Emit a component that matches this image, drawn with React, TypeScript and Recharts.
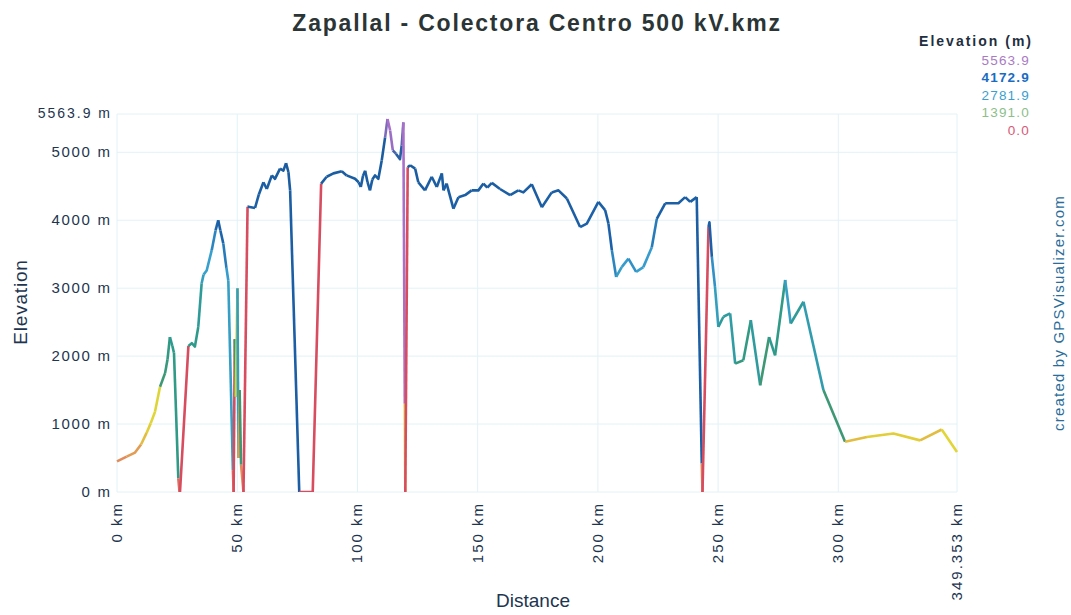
import { LineChart, Line, XAxis, YAxis, CartesianGrid } from 'recharts';

// profile (km, metres)
const distanceKm = [
  0, 4, 7.5, 10, 12.3, 14, 15.8, 17.9, 20, 21, 22, 23, 23.7, 25.5, 26.0, 26.2, 29.7,
  31.1, 32.4, 33.8, 35.2, 36, 37.3, 39.4, 41, 42.1, 43, 44.2, 45.5, 46.3, 48.2, 48.5,
  49.0, 49.4, 50.1, 50.5, 51.0, 51.6, 52.6, 54.3, 54.6, 57.4, 59, 60.9, 62.3, 64.4,
  65.7, 67.8, 69.2, 70.3, 71.3, 72, 75.8, 81.4, 84.9, 87.2, 90, 93.5, 95.5, 99,
  100.5, 101.4, 102.3, 103.2, 104.2, 105.2, 106.2, 107.3, 108.7, 110.1, 111.5, 112.5,
  113.6, 114.7, 116, 117.7, 118.4, 119.1, 119.7, 119.9, 120.9, 121.9, 124, 125.3,
  128.1, 130.9, 133, 135.1, 135.8, 137.1, 139.9, 142, 144.8, 147.5, 150.3, 152.4,
  154, 155.9, 159.3, 163.5, 166.9, 169, 172.5, 176.7, 180.8, 183.6, 187.1, 192.6,
  195.4, 200.2, 203, 204.4, 205.8, 207.6, 209.9, 212.7, 215.9, 218.9, 222.4, 224.5,
  228, 233.5, 236.3, 238.4, 241.1, 243.2, 243.5, 246, 246.4, 247.4, 248.7, 250.1,
  252.2, 255, 257.1, 260.5, 263.6, 267.5, 271.2, 273.7, 277.9, 280.2, 285.5, 293.8,
  302.8, 311.9, 322.9, 334, 343, 349.353,
];
const elevationM = [
  450, 520, 580, 700, 870, 1010, 1180, 1550, 1750, 1950, 2280, 2150, 2050, 200, 0, 0, 2150,
  2190, 2140, 2430, 3070, 3200, 3260, 3560, 3850, 4000, 3850, 3660, 3300, 3110, 320, 0,
  2250, 1400, 3000, 500, 1500, 400, 0, 4200, 4200, 4180, 4380, 4560, 4460, 4660,
  4610, 4760, 4730, 4840, 4710, 4440, 0, 0, 4540, 4640, 4690, 4720, 4660, 4610,
  4560, 4490, 4650, 4730, 4560, 4440, 4600, 4660, 4610, 4880, 5220, 5490,
  5320, 5030, 4980, 4900, 5100, 5440, 1300, 0, 4780, 4810, 4760, 4560,
  4440, 4640, 4490, 4690, 4440, 4540, 4170, 4340, 4370, 4440, 4440, 4540,
  4480, 4550, 4460, 4370, 4440, 4410, 4530, 4190, 4410, 4440, 4320, 3900,
  3950, 4270, 4150, 3950, 3560, 3165, 3310, 3435, 3240, 3310, 3600, 4020,
  4250, 4250, 4340, 4270, 4340, 420, 0, 3900, 3970, 3460, 3020, 2430,
  2580, 2630, 1890, 1940, 2530, 1570, 2280, 2010, 3120, 2480, 2800, 1500,
  740, 810, 860, 760, 920, 590,
];

const xTicks = [0, 50, 100, 150, 200, 250, 300, 349.353];
const yTicks = [0, 1000, 2000, 3000, 4000, 5000, 5563.9];
const legendValues = ['5563.9', '4172.9', '2781.9', '1391.0', '0.0'];
const legendColors = ['#a97bc4', '#1a6cc2', '#3a9fcf', '#8cc08a', '#d85a78'];

const FONT = '"Liberation Sans", Arial, sans-serif';
const TEXT = '#1d3550';

// colour ramp used by the elevation colouring
const ramp: [number, number[]][] = [
  [0, [214, 69, 95]],
  [450, [226, 140, 92]],
  [900, [226, 214, 52]],
  [1450, [214, 212, 60]],
  [1550, [62, 152, 118]],
  [2100, [46, 154, 136]],
  [2800, [48, 156, 170]],
  [3300, [56, 160, 208]],
  [3900, [27, 96, 168]],
  [4900, [27, 92, 158]],
  [5400, [168, 112, 200]],
];

function colourAt(m: number) {
  if (m <= ramp[0][0]) return `rgb(${ramp[0][1].join(',')})`;
  for (let k = 1; k < ramp.length; k++) {
    const [m1, c1] = ramp[k];
    const [m0, c0] = ramp[k - 1];
    if (m <= m1) {
      const t = (m - m0) / (m1 - m0);
      const c = c0.map((v, j) => Math.round(v + (c1[j] - v) * t));
      return `rgb(${c.join(',')})`;
    }
  }
  return `rgb(${ramp[ramp.length - 1][1].join(',')})`;
}

const BIN = 100;
const rows = distanceKm.map((km, i) => ({ i, km, elev: elevationM[i] }));

// each segment takes the colour of its first point; same-colour neighbours merge into runs
const runs: { start: number; end: number; bin: number }[] = [];
for (let s = 0; s < rows.length - 1; s++) {
  const bin = Math.floor(rows[s].elev / BIN);
  const last = runs[runs.length - 1];
  if (last && last.bin === bin && last.end === s) last.end = s + 1;
  else runs.push({ start: s, end: s + 1, bin });
}

const YTick = ({ x, y, payload }: any) => {
  const top = payload.value === 5563.9;
  return (
    <text
      x={x + (top ? 2 : 1.7)}
      y={y}
      dy={top ? 4 : 5}
      textAnchor="end"
      fill={TEXT}
      fontSize={top ? 14 : 15}
      letterSpacing={top ? 2 : 1.7}
      fontFamily={FONT}
    >
      {`${payload.value} m`}
    </text>
  );
};

const XTick = ({ x, y, payload }: any) => (
  <g transform={`translate(${x},${y})`}>
    <text transform="rotate(-90)" textAnchor="end" dy={5} fill={TEXT} fontSize={15} letterSpacing={2} fontFamily={FONT}>
      {`${payload.value} km`}
    </text>
  </g>
);

export default function App() {
  return (
    <div style={{ position: 'absolute', left: 0, top: 0, width: 1071, height: 615, background: '#fff', fontFamily: FONT }}>
      <LineChart width={1071} height={615} data={rows} margin={{ top: 114, right: 114, bottom: 13, left: 57 }}>
        <CartesianGrid stroke="#e2f2f7" />
        <XAxis
          dataKey="km"
          type="number"
          domain={[0, 349.353]}
          ticks={xTicks}
          interval={0}
          height={110}
          axisLine={false}
          tickLine={false}
          tickSize={0}
          tickMargin={10}
          tick={<XTick />}
        />
        <YAxis
          type="number"
          domain={[0, 5563.9]}
          ticks={yTicks}
          interval={0}
          width={60}
          axisLine={false}
          tickLine={false}
          tickSize={0}
          tickMargin={7}
          tick={<YTick />}
          allowDataOverflow
        />
        {runs.map((r, k) => (
          <Line
            key={`run-${k}`}
            type="linear"
            dataKey={(d: any) => (d.i >= r.start && d.i <= r.end ? d.elev : null)}
            stroke={colourAt(r.bin * BIN + BIN / 2)}
            strokeWidth={2.6}
            strokeLinejoin="round"
            dot={false}
            activeDot={false}
            legendType="none"
            isAnimationActive={false}
          />
        ))}
      </LineChart>

      <svg width={1071} height={615} style={{ position: 'absolute', left: 0, top: 0, pointerEvents: 'none' }}>
        <text x={537} y={31} textAnchor="middle" fontSize={23} fontWeight="bold" fill="#2b3535" letterSpacing={1.8} fontFamily={FONT}>
          Zapallal - Colectora Centro 500 kV.kmz
        </text>
        <text x={1033} y={46} textAnchor="end" fontSize={14} fontWeight="bold" fill="#1f2f40" letterSpacing={2} fontFamily={FONT}>
          Elevation (m)
        </text>
        {legendValues.map((v, k) => (
          <text
            key={v}
            x={1030}
            y={65 + k * 17.4}
            textAnchor="end"
            fontSize={13.5}
            fontWeight={k === 1 ? 'bold' : 'normal'}
            fill={legendColors[k]}
            letterSpacing={1.2}
            fontFamily={FONT}
          >
            {v}
          </text>
        ))}
        <text transform="translate(27,302) rotate(-90)" textAnchor="middle" fontSize={19} fill={TEXT} letterSpacing={0.8} fontFamily={FONT}>
          Elevation
        </text>
        <text x={533} y={607} textAnchor="middle" fontSize={19} fill={TEXT} fontFamily={FONT}>
          Distance
        </text>
        <text transform="translate(1064,313) rotate(-90)" textAnchor="middle" fontSize={15} fill="#2a6d99" letterSpacing={1.2} fontFamily={FONT}>
          created by GPSVisualizer.com
        </text>
      </svg>
    </div>
  );
}
